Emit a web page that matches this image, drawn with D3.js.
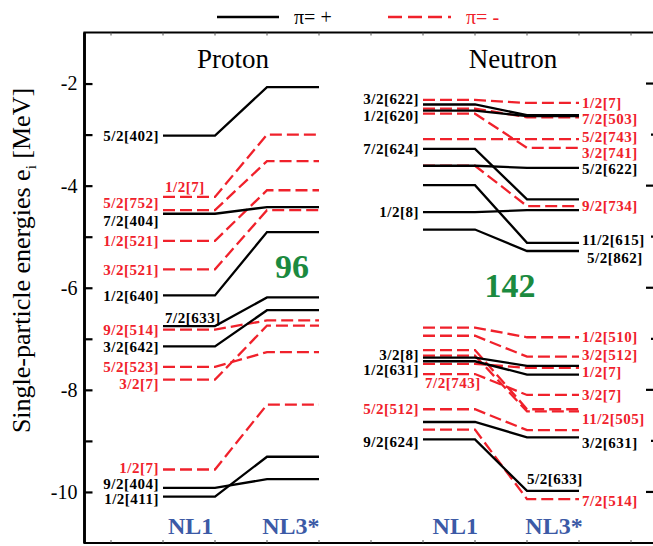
<!DOCTYPE html>
<html>
<head>
<meta charset="utf-8">
<script src="https://cdn.jsdelivr.net/npm/d3@7"></script>
<style>
body { margin: 0; background: #fff; }
svg { display: block; font-family: "Liberation Serif", "Times New Roman", serif; }
</style>
</head>
<body>
<svg id="chart" width="653" height="546"></svg>
<script>
// proton levels, NL1 -> NL3*
var protonLabels = ["5/2[402]", "1/2[7]", "5/2[752]", "7/2[404]", "1/2[521]", "3/2[521]", "1/2[640]",
    "7/2[633]", "9/2[514]", "3/2[642]", "5/2[523]", "3/2[7]", "1/2[7]", "9/2[404]", "1/2[411]"];
var protonNL1 = [-3.02, -4.22, -4.48, -4.55, -5.08, -5.64, -6.15, -6.75, -6.82, -7.15, -7.55, -7.80, -9.56, -9.92, -10.09];
var protonNL3 = [-2.07, -3.00, -3.52, -4.42, -4.09, -4.48, -4.91, -6.19, -6.64, -6.44, -7.26, -6.74, -8.29, -9.75, -9.31];
var protonParity = ["+", "-", "-", "+", "-", "-", "+", "+", "-", "+", "-", "-", "-", "+", "+"];

// neutron levels, NL1 -> NL3*
var neutronLeftLabels = ["", "3/2[622]", "", "1/2[620]", "", "", "7/2[624]", "", "", "", "1/2[8]", "",
    "", "", "", "", "3/2[8]", "1/2[631]", "", "7/2[743]", "5/2[512]", "", "", "9/2[624]"];
var neutronRightLabels = ["1/2[7]", "", "7/2[503]", "", "3/2[741]", "5/2[743]", "", "5/2[622]", "9/2[734]", "11/2[615]", "", "5/2[862]",
    "1/2[510]", "3/2[512]", "11/2[505]", "", "", "", "1/2[7]", "3/2[7]", "", "3/2[631]", "7/2[514]", "5/2[633]"];
var neutronNL1 = [-2.32, -2.41, -2.49, -2.53, -2.59, -3.09, -3.28, -3.61, -3.61, -3.99, -4.52, -4.86,
    -6.78, -6.94, -7.22, -7.33, -7.37, -7.44, -7.49, -7.69, -8.38, -8.63, -8.78, -8.97];
var neutronNL3 = [-2.38, -2.62, -2.66, -2.64, -3.26, -3.09, -4.27, -3.65, -4.40, -5.12, -4.48, -5.28,
    -6.97, -7.35, -8.38, -8.42, -7.53, -7.70, -7.57, -8.10, -8.79, -8.93, -10.14, -9.98];
var neutronParity = ["-", "+", "-", "+", "-", "-", "+", "+", "-", "+", "+", "+",
    "-", "-", "-", "-", "+", "+", "-", "-", "-", "+", "-", "+"];

var yTickValues = [-10, -9, -8, -7, -6, -5, -4, -3, -2];

// label nudges in px (layout only)
var protonLabelDy = [0, -10.5, -7.3, 7.4, 0, 0, 0, -8.3, 0, 0, 0, 3.7, -2, -3.7, 2.3];
var protonLabelInside = [1, 7];
var neutronLeftDy = [0, -6, 0, 5, 0, 0, 0, 0, 0, 0, 0, 0, 0, 0, 0, 0, -3, 8, 0, 9, 0, 0, 0, 2];
var neutronLeftInside = [19];
var neutronRightDy = [-0.6, 0, 1.3, 0, 5, -2, 0, 1, 0, -3, 0, 7, -1, -2, 10, 0, 0, 0, 4, 0, 0, 5, 1.4, -12];
var neutronRightInside = [23];
var neutronRightDx = {11: 5};

var RED = "#f0212b", GREEN = "#1b8a3f", BLUE = "#3c5aa6";

var svg = d3.select("#chart");
var frame = {left: 84.5, right: 656, top: 32.5, bottom: 543};

var x = d3.scaleLinear().domain([0, 11]).range([85, 657]);
var y = d3.scaleLinear().domain([-11, -1]).range([frame.bottom, frame.top]);

// legend
svg.append("line").attr("x1", 217).attr("x2", 279).attr("y1", 17).attr("y2", 17)
    .attr("stroke", "#000").attr("stroke-width", 2.5);
svg.append("text").attr("x", 294).attr("y", 24).attr("font-size", 20).text("π= +");
svg.append("line").attr("x1", 388).attr("x2", 451).attr("y1", 17).attr("y2", 17)
    .attr("stroke", RED).attr("stroke-width", 2.5).attr("stroke-dasharray", "14,6");
svg.append("text").attr("x", 466).attr("y", 24).attr("font-size", 20).attr("fill", RED).text("π= -");

// frame
svg.append("path")
    .attr("d", `M${frame.right},${frame.top} H${frame.left} V${frame.bottom} H${frame.right}`)
    .attr("fill", "none").attr("stroke", "#000").attr("stroke-width", 2.2);
svg.append("line").attr("x1", frame.left).attr("x2", frame.left).attr("y1", frame.top).attr("y2", frame.bottom)
    .attr("stroke", "#000").attr("stroke-width", 2.8);

// left axis
var yAxis = d3.axisLeft(y).tickValues(yTickValues).tickSizeInner(-8).tickSizeOuter(0).tickPadding(7)
    .tickFormat(d => d % 2 == 0 ? d : "");
var gy = svg.append("g").attr("transform", `translate(${frame.left},0)`).call(yAxis);
gy.select(".domain").remove();
gy.selectAll(".tick line").attr("stroke-width", 2.2);
gy.selectAll(".tick text").attr("font-size", 20).attr("font-family", "Liberation Serif").attr("fill", "#000");

// right ticks
svg.append("g").selectAll("line").data(yTickValues).join("line")
    .attr("x1", d => d % 2 == 0 ? 646 : 651).attr("x2", 656)
    .attr("y1", d => y(d)).attr("y2", d => y(d))
    .attr("stroke", "#000").attr("stroke-width", 2.2);

// top and bottom ticks
var xTicks = d3.range(0.5, 11, 1);
svg.append("g").selectAll("line").data(xTicks).join("line")
    .attr("x1", d => x(d)).attr("x2", d => x(d)).attr("y1", frame.top).attr("y2", frame.top + 3)
    .attr("stroke", "#555").attr("stroke-width", 1);
svg.append("g").selectAll("line").data(xTicks).join("line")
    .attr("x1", d => x(d)).attr("x2", d => x(d)).attr("y1", frame.bottom).attr("y2", frame.bottom - 3)
    .attr("stroke", "#555").attr("stroke-width", 1);

// y label
svg.append("text")
    .attr("transform", "translate(30,260.5) rotate(-90)")
    .attr("text-anchor", "middle").attr("font-size", 26)
    .html('Single-particle energies  e<tspan font-size="15" dy="6">i</tspan><tspan dy="-6"> [MeV]</tspan>');

var line = d3.line();

function drawPanel(cols, nl1, nl3, parity, leftLabels, rightLabels, leftDy, rightDy, leftInside, rightInside, rightDx) {
    var g = svg.append("g");
    var idx = d3.range(nl1.length);
    // dashed first, solid on top
    idx.sort((a, b) => (parity[a] == "+") - (parity[b] == "+"));
    g.selectAll("path").data(idx).join("path")
        .attr("d", i => line([[x(cols[0]), y(nl1[i])], [x(cols[1]), y(nl1[i])],
                              [x(cols[2]), y(nl3[i])], [x(cols[3]), y(nl3[i])]]))
        .attr("fill", "none")
        .attr("stroke", i => parity[i] == "+" ? "#000" : RED)
        .attr("stroke-width", 2.3)
        .attr("stroke-dasharray", i => parity[i] == "+" ? null : "12,5");

    var labels = g.append("g").attr("font-size", 15).attr("font-weight", "bold").attr("letter-spacing", 0.5);
    d3.range(nl1.length).forEach(function(i) {
        var col = parity[i] == "+" ? "#000" : RED;
        if (leftLabels[i]) {
            var inside = leftInside.indexOf(i) >= 0;
            labels.append("text")
                .attr("x", inside ? x(cols[0]) + 2 : x(cols[0]) - 4)
                .attr("y", y(nl1[i]) + leftDy[i])
                .attr("dy", "0.35em")
                .attr("text-anchor", inside ? "start" : "end")
                .attr("fill", col)
                .text(leftLabels[i]);
        }
        if (rightLabels && rightLabels[i]) {
            var insideR = rightInside.indexOf(i) >= 0;
            labels.append("text")
                .attr("x", insideR ? x(cols[2]) : x(cols[3]) + 3 + (rightDx[i] || 0))
                .attr("y", y(nl3[i]) + rightDy[i])
                .attr("dy", "0.35em")
                .attr("fill", col)
                .text(rightLabels[i]);
        }
    });
}

drawPanel([1.5, 2.5, 3.5, 4.5], protonNL1, protonNL3, protonParity, protonLabels, null,
    protonLabelDy, null, protonLabelInside, [], {});
drawPanel([6.5, 7.5, 8.5, 9.5], neutronNL1, neutronNL3, neutronParity, neutronLeftLabels, neutronRightLabels,
    neutronLeftDy, neutronRightDy, neutronLeftInside, neutronRightInside, neutronRightDx);

// titles
svg.append("text").attr("x", 233).attr("y", 68).attr("text-anchor", "middle").attr("font-size", 27).text("Proton");
svg.append("text").attr("x", 513).attr("y", 68).attr("text-anchor", "middle").attr("font-size", 27).text("Neutron");

// magic numbers
svg.append("text").attr("x", 292).attr("y", 278).attr("text-anchor", "middle")
    .attr("font-size", 34).attr("font-weight", "bold").attr("fill", GREEN).text("96");
svg.append("text").attr("x", 510).attr("y", 297).attr("text-anchor", "middle")
    .attr("font-size", 34).attr("font-weight", "bold").attr("fill", GREEN).text("142");

// model names
[["NL1", 2.03], ["NL3*", 3.96], ["NL1", 7.12], ["NL3*", 9.02]].forEach(function(m) {
    svg.append("text").attr("x", x(m[1])).attr("y", 534).attr("text-anchor", "middle")
        .attr("font-size", 24).attr("font-weight", "bold").attr("fill", BLUE).text(m[0]);
});
</script>
</body>
</html>
